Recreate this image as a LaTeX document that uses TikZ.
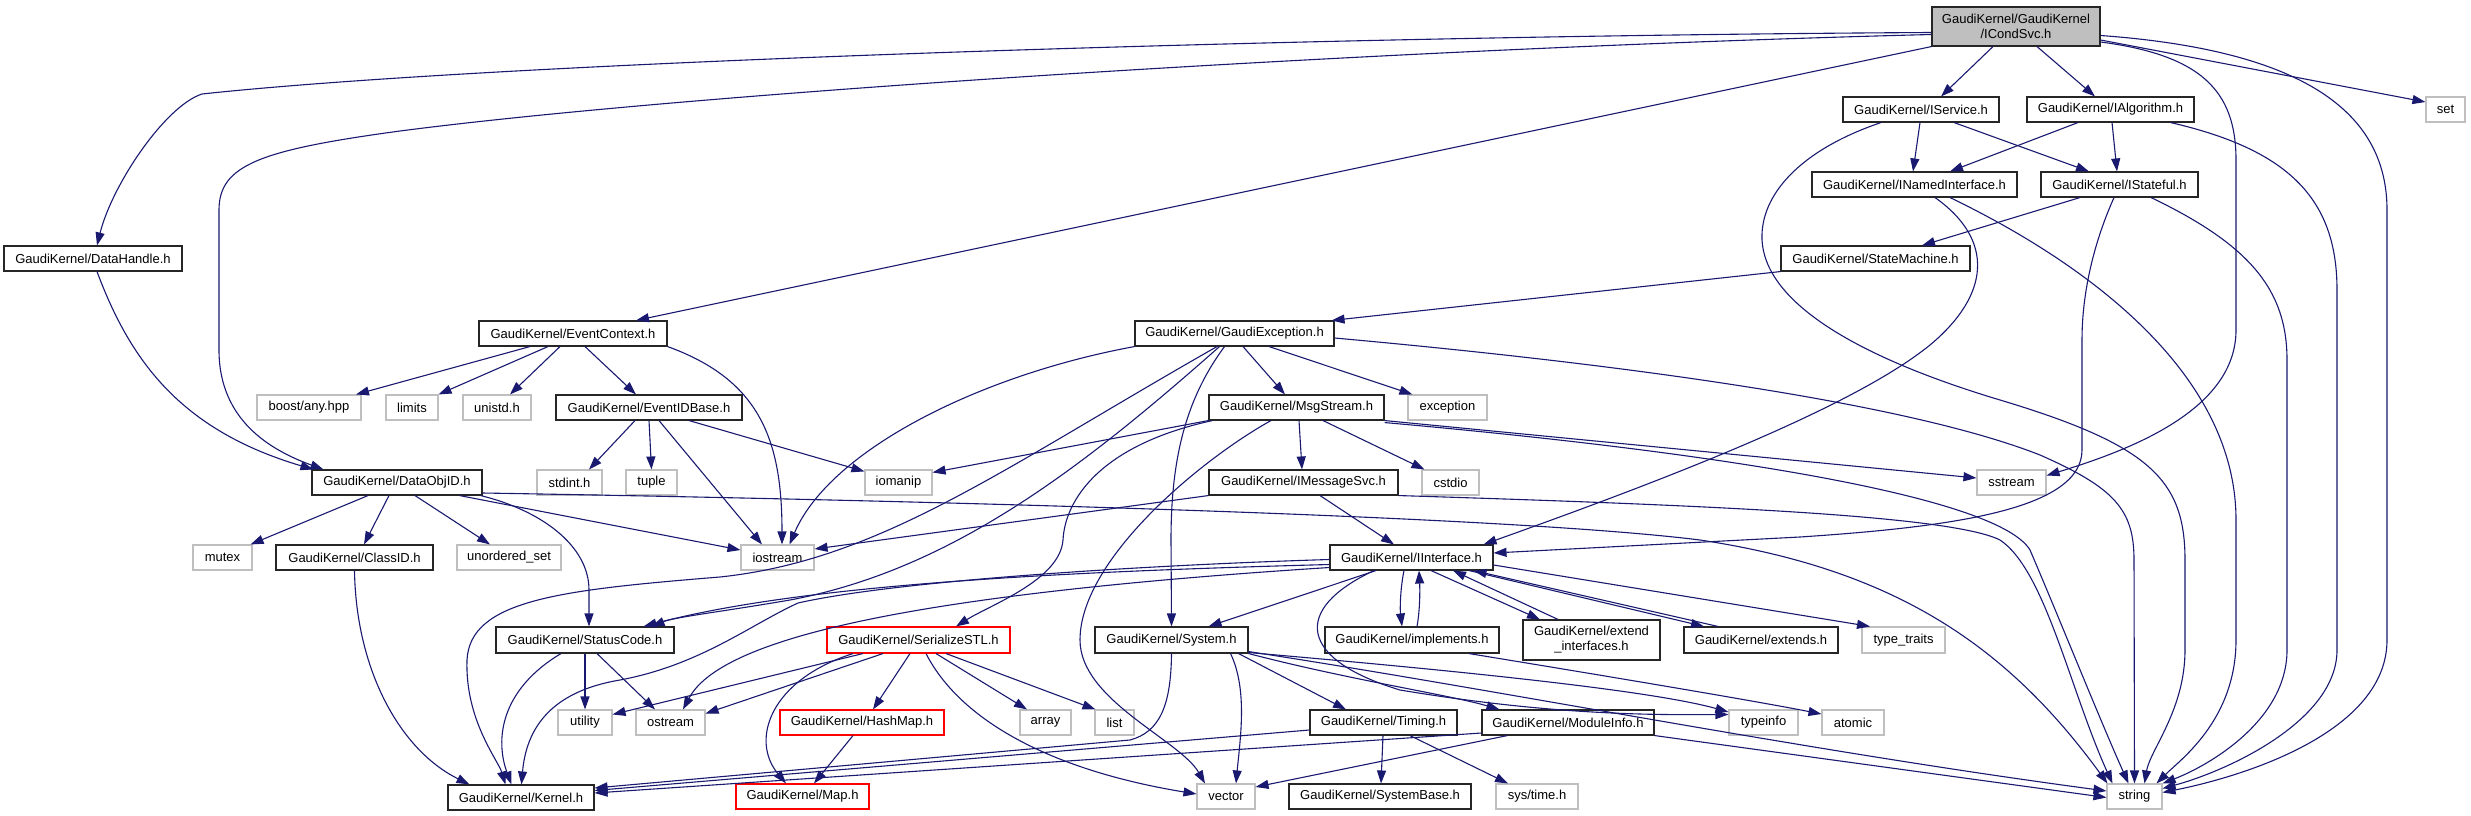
\documentclass[tikz,border=0pt]{standalone}
\usepackage{fontspec}
\setmainfont{Liberation Sans}
\usetikzlibrary{arrows.meta}
\definecolor{edgec}{HTML}{191970}
\definecolor{greyb}{HTML}{BFBFBF}
\newcommand\gnd[7][gbox]{\node[#1, minimum width={#5-#3}, minimum height={#6-#4}] (#2) at ({(#3+#5)/2},{(#4+#6)/2}) {#7};}
\begin{document}
\begin{tikzpicture}[x=1pt,y=-1pt,
  gbox/.style={draw=black!85, line width=1.1pt, inner sep=0pt, font=\fontsize{13}{15}\selectfont, align=center},
  gext/.style={gbox, draw=greyb},
  gred/.style={gbox, draw=red},
  gmain/.style={gbox, fill=greyb},
  lnk/.style={draw=edgec, line width=1.1pt, -{Triangle[length=13pt,width=9pt]}}]
\useasboundingbox (0,0) rectangle (2471,816);
% nodes
\gnd[gmain]{icond}{1932}{7}{2100}{46}{GaudiKernel/GaudiKernel\\/ICondSvc.h}
\gnd{isvc}{1843}{97}{1999}{122}{GaudiKernel/IService.h}
\gnd{ialg}{2027}{97}{2194}{122}{GaudiKernel/IAlgorithm.h}
\gnd[gext]{set}{2426}{97}{2465}{122}{set}
\gnd{inamed}{1812}{172}{2017}{197}{GaudiKernel/INamedInterface.h}
\gnd{istate}{2041}{172}{2198}{197}{GaudiKernel/IStateful.h}
\gnd{smach}{1781}{246}{1970}{271}{GaudiKernel/StateMachine.h}
\gnd{dhandle}{4}{246}{182}{271}{GaudiKernel/DataHandle.h}
\gnd{evctx}{479}{321}{667}{346}{GaudiKernel/EventContext.h}
\gnd{gexc}{1135}{321}{1334}{346}{GaudiKernel/GaudiException.h}
\gnd[gext]{boost}{257}{395}{361}{420}{boost/any.hpp}
\gnd[gext]{limits}{386}{395}{438}{420}{limits}
\gnd[gext]{unistd}{463}{395}{531}{420}{unistd.h}
\gnd{evid}{556}{395}{742}{420}{GaudiKernel/EventIDBase.h}
\gnd{msgs}{1209}{395}{1384}{420}{GaudiKernel/MsgStream.h}
\gnd[gext]{exc}{1408}{395}{1487}{420}{exception}
\gnd{dobj}{312}{470}{482}{495}{GaudiKernel/DataObjID.h}
\gnd[gext]{stdint}{537}{470}{602}{495}{stdint.h}
\gnd[gext]{tuple}{626}{470}{677}{495}{tuple}
\gnd[gext]{iomanip}{865}{470}{932}{495}{iomanip}
\gnd{imsg}{1209}{470}{1398}{495}{GaudiKernel/IMessageSvc.h}
\gnd[gext]{cstdio}{1422}{470}{1479}{495}{cstdio}
\gnd[gext]{sstream}{1977}{470}{2046}{495}{sstream}
\gnd[gext]{mutex}{193}{545}{252}{570}{mutex}
\gnd{classid}{276}{545}{433}{570}{GaudiKernel/ClassID.h}
\gnd[gext]{uset}{457}{545}{561}{570}{unordered\_set}
\gnd[gext]{iostream}{741}{545}{814}{570}{iostream}
\gnd{iintf}{1330}{545}{1493}{570}{GaudiKernel/IInterface.h}
\gnd{stcode}{496}{627}{674}{653}{GaudiKernel/StatusCode.h}
\gnd[gred]{sstl}{827}{627}{1010}{653}{GaudiKernel/SerializeSTL.h}
\gnd{system}{1095}{627}{1248}{653}{GaudiKernel/System.h}
\gnd{impl}{1325}{627}{1499}{653}{GaudiKernel/implements.h}
\gnd{extif}{1523}{620}{1660}{660}{GaudiKernel/extend\\\_interfaces.h}
\gnd{extends}{1684}{627}{1838}{653}{GaudiKernel/extends.h}
\gnd[gext]{ttraits}{1862}{627}{1945}{653}{type\_traits}
\gnd[gext]{utility}{558}{710}{612}{735}{utility}
\gnd[gext]{ostream}{636}{710}{705}{735}{ostream}
\gnd[gred]{hashmap}{780}{710}{944}{735}{GaudiKernel/HashMap.h}
\gnd[gext]{array}{1020}{710}{1071}{735}{array}
\gnd[gext]{list}{1095}{710}{1134}{735}{list}
\gnd{timing}{1310}{710}{1457}{735}{GaudiKernel/Timing.h}
\gnd{modinfo}{1482}{710}{1654}{735}{GaudiKernel/ModuleInfo.h}
\gnd[gext]{typeinfo}{1729}{710}{1798}{735}{typeinfo}
\gnd[gext]{atomic}{1822}{710}{1884}{735}{atomic}
\gnd{kernel}{448}{785}{594}{810}{GaudiKernel/Kernel.h}
\gnd[gred]{map}{736}{784}{869}{809}{GaudiKernel/Map.h}
\gnd[gext]{vector}{1197}{784}{1255}{809}{vector}
\gnd{sysbase}{1289}{784}{1471}{809}{GaudiKernel/SystemBase.h}
\gnd[gext]{systime}{1496}{784}{1578}{809}{sys/time.h}
\gnd[gext]{string}{2107}{784}{2162}{809}{string}
% edges from ICondSvc
\draw[lnk] ([yshift=-6]icond.west) .. controls (1300,36) and (500,62) .. (202,94) .. controls (165,106) and (112,185) .. ([xshift=4]dhandle.north);
\draw[lnk] ([yshift=-8]icond.west) .. controls (1400,48) and (700,92) .. (400,131) .. controls (260,150) and (219,165) .. (219,210) -- (219,350) .. controls (219,420) and (270,450) .. ([xshift=12]dobj.north west);
\draw[lnk] (icond.south west) -- ([xshift=63]evctx.north);
\draw[lnk] ([xshift=-23]icond.south) -- ([xshift=20]isvc.north);
\draw[lnk] ([xshift=21]icond.south) -- ([xshift=-15.5]ialg.north);
\draw[lnk] ([yshift=-13.5]icond.east) -- ([yshift=7.5]set.west);
\draw[lnk] ([yshift=-15.5]icond.east) .. controls (2200,55) and (2236,90) .. (2236,160) -- (2236,330) .. controls (2236,410) and (2130,450) .. ([yshift=7]sstream.east);
\draw[lnk] ([yshift=-9]icond.east) .. controls (2300,50) and (2387,110) .. (2387,210) -- (2387,640) .. controls (2387,730) and (2250,775) .. ([yshift=4]string.east);
% IService
\draw[lnk] ([xshift=-1]isvc.south) -- ([xshift=-1.5]inamed.north);
\draw[lnk] ([xshift=33]isvc.south) -- ([xshift=-30.5]istate.north);
\draw[lnk] ([xshift=-40]isvc.south) .. controls (1800,150) and (1760,195) .. (1762,240) .. controls (1765,300) and (1850,355) .. (2000,400) .. controls (2150,445) and (2185,480) .. (2185,560) -- (2185,650) .. controls (2185,710) and (2150,750) .. ([xshift=10]string.north);
% IAlgorithm
\draw[lnk] ([xshift=-32.5]ialg.south) -- ([xshift=35.5]inamed.north);
\draw[lnk] ([xshift=1.5]ialg.south) -- ([xshift=-2.5]istate.north);
\draw[lnk] ([xshift=-24]ialg.south east) .. controls (2290,150) and (2337,200) .. (2337,290) -- (2337,650) .. controls (2337,720) and (2230,770) .. ([yshift=8]string.east);
% INamedInterface
\draw[lnk] ([xshift=20.5]inamed.south) .. controls (1995,240) and (1990,295) .. (1930,345) .. controls (1850,410) and (1650,485) .. ([xshift=-10]iintf.north east);
\draw[lnk] ([xshift=35.5]inamed.south) .. controls (2100,270) and (2236,380) .. (2236,520) -- (2236,640) .. controls (2236,720) and (2180,760) .. ([xshift=22]string.north);
% IStateful
\draw[lnk] ([xshift=-39.5]istate.south) -- ([xshift=46.5]smach.north);
\draw[lnk] ([xshift=-5.5]istate.south) .. controls (2095,240) and (2082,290) .. (2082,340) -- (2082,450) .. controls (2082,510) and (1950,527) .. (1800,537) -- ([yshift=4.5]iintf.east);
\draw[lnk] ([xshift=31.5]istate.south) .. controls (2250,245) and (2287,290) .. (2287,360) -- (2287,650) .. controls (2287,720) and (2210,765) .. (string.north east);
% StateMachine
\draw[lnk] (smach.south west) -- ([xshift=-3]gexc.north east);
% DataHandle
\draw[lnk] ([xshift=4]dhandle.south) .. controls (130,360) and (180,430) .. ([xshift=2]dobj.north west);
% EventContext
\draw[lnk] ([xshift=-43]evctx.south) -- ([xshift=47]boost.north);
\draw[lnk] ([xshift=-25]evctx.south) -- (limits.north east);
\draw[lnk] ([xshift=-13]evctx.south) -- ([xshift=13]unistd.north);
\draw[lnk] ([xshift=12]evctx.south) -- ([xshift=-13]evid.north);
\draw[lnk] (evctx.south east) .. controls (760,380) and (782,440) .. ([xshift=4.5]iostream.north);
% EventIDBase
\draw[lnk] ([xshift=-14]evid.south) -- ([xshift=19.5]stdint.north);
\draw[lnk] (evid.south) -- (tuple.north);
\draw[lnk] ([xshift=10]evid.south) -- ([xshift=-15.5]iostream.north);
\draw[lnk] ([xshift=40]evid.south) -- ([yshift=-2]iomanip.north west);
% GaudiException
\draw[lnk] (gexc.south west) .. controls (980,375) and (830,450) .. ([xshift=12]iostream.north);
\draw[lnk] ([xshift=-10]gexc.south) .. controls (1185,400) and (1171,460) .. (1171,540) -- (system.north);
\draw[lnk] ([xshift=8.5]gexc.south) -- ([xshift=-11.5]msgs.north);
\draw[lnk] ([xshift=34.5]gexc.south) -- ([xshift=5]exc.north west);
\draw[lnk] ([yshift=-4.5]gexc.east) .. controls (1600,362) and (1900,400) .. (2040,455) .. controls (2115,488) and (2134,510) .. (2134,560) -- (string.north);
\draw[lnk] ([xshift=-17.5]gexc.south) .. controls (1000,470) and (880,560) .. (720,577) .. controls (560,590) and (470,600) .. (467,660) .. controls (465,720) and (498,760) .. ([xshift=58]kernel.north west);
\draw[lnk] ([xshift=-15]gexc.south) .. controls (1080,470) and (950,570) .. (790,600) .. controls (720,612) and (675,617) .. ([xshift=-23]stcode.north east);
% MsgStream
\draw[lnk] (msgs.south west) -- ([yshift=-3]iomanip.north east);
\draw[lnk] ([xshift=4]msgs.south west) .. controls (1100,445) and (1065,500) .. (1063,540) .. controls (1060,580) and (990,605) .. ([xshift=37.5]sstl.north);
\draw[lnk] ([xshift=-25.5]msgs.south) .. controls (1200,460) and (1080,560) .. (1080,640) .. controls (1080,700) and (1180,740) .. ([xshift=-21]vector.north);
\draw[lnk] ([xshift=2.5]msgs.south) -- ([xshift=-1.5]imsg.north);
\draw[lnk] ([xshift=26.5]msgs.south) -- ([xshift=3]cstdio.north west);
\draw[lnk] (msgs.south east) -- ([yshift=4.5]sstream.west);
\draw[lnk] ([yshift=-2]msgs.south east) .. controls (1750,455) and (2000,500) .. (2030,550) .. controls (2060,620) and (2100,720) .. ([xshift=-6]string.north);
% IMessageSvc
\draw[lnk] (imsg.south west) -- ([yshift=8.5]iostream.east);
\draw[lnk] ([xshift=16.5]imsg.south) -- ([xshift=-17.5]iintf.north);
\draw[lnk] (imsg.south east) .. controls (1700,505) and (1950,515) .. (2000,540) .. controls (2045,570) and (2070,690) .. ([xshift=6]string.north west);
% DataObjID
\draw[lnk] ([xshift=-29]dobj.south) -- ([xshift=-2]mutex.north east);
\draw[lnk] ([xshift=-8]dobj.south) -- ([xshift=9.5]classid.north);
\draw[lnk] ([xshift=18]dobj.south) -- ([xshift=-19]uset.north);
\draw[lnk] ([xshift=-2]dobj.south east) .. controls (540,510) and (589,545) .. (589,590) -- ([xshift=4]stcode.north);
\draw[lnk] ([xshift=-23]dobj.south east) -- ([yshift=7.5]iostream.west);
\draw[lnk] ([yshift=-10.5]dobj.east) .. controls (900,500) and (1500,515) .. (1700,540) .. controls (1900,570) and (2010,650) .. ([xshift=1]string.north west);
% ClassID, StatusCode
\draw[lnk] (classid.south) .. controls (356,670) and (400,750) .. ([xshift=22]kernel.north west);
\draw[lnk] ([xshift=-24]stcode.south) .. controls (500,690) and (495,740) .. ([xshift=64]kernel.north west);
\draw[lnk] (stcode.south) -- (utility.north);
\draw[lnk] ([xshift=12]stcode.south) -- ([xshift=-15.5]ostream.north);
% SerializeSTL
\draw[lnk] ([xshift=-55.5]sstl.south) -- ([yshift=8]utility.east);
\draw[lnk] ([xshift=-35.5]sstl.south) -- ([yshift=9]ostream.east);
\draw[lnk] ([xshift=-8.5]sstl.south) -- ([xshift=11]hashmap.north);
\draw[lnk] ([xshift=-65.5]sstl.south) .. controls (770,680) and (750,740) .. ([xshift=-16.5]map.north);
\draw[lnk] ([xshift=17.5]sstl.south) -- ([xshift=-18.5]array.north);
\draw[lnk] ([xshift=27.5]sstl.south) -- ([xshift=1]list.north west);
\draw[lnk] ([xshift=7.5]sstl.south) .. controls (960,720) and (1050,770) .. ([yshift=2.5]vector.west);
\draw[lnk] ([xshift=-9]hashmap.south) -- ([xshift=11.5]map.north);
% IInterface
\draw[lnk] ([yshift=-2]iintf.west) .. controls (1150,565) and (900,580) .. (798,603) .. controls (750,625) and (700,665) .. (620,680) .. controls (560,690) and (527,720) .. ([xshift=74]kernel.north west);
\draw[lnk] ([yshift=-7]iintf.west) .. controls (1050,572) and (800,585) .. ([xshift=-31]stcode.north east);
\draw[lnk] ([yshift=-10]iintf.west) .. controls (900,595) and (720,640) .. ([xshift=12.5]ostream.north);
\draw[lnk] ([xshift=-7.5]iintf.south) .. controls (1400,590) and (1400,610) .. ([xshift=-10]impl.north);
\draw[lnk] ([xshift=5]impl.north) .. controls (1420,610) and (1420,590) .. ([xshift=7.5]iintf.south);
\draw[lnk] ([xshift=19.5]iintf.south) -- ([xshift=-51.5]extif.north);
\draw[lnk] ([xshift=-33.5]extif.north) -- ([xshift=41.5]iintf.south);
\draw[lnk] ([xshift=57.5]iintf.south) -- ([xshift=-57]extends.north);
\draw[lnk] ([xshift=-43]extends.north) -- ([xshift=-20]iintf.south east);
\draw[lnk] ([yshift=-7.5]iintf.east) -- ([xshift=-33.5]ttraits.north);
\draw[lnk] ([xshift=-35.5]iintf.south) -- ([xshift=-40]system.north east);
\draw[lnk] ([xshift=-37.5]iintf.south) .. controls (1290,610) and (1300,660) .. (1400,690) .. controls (1550,715) and (1650,715) .. ([yshift=8]typeinfo.west);
\draw[lnk] ([xshift=57]impl.south) .. controls (1600,675) and (1750,700) .. ([yshift=8.5]atomic.west);
% System
\draw[lnk] (system.south) .. controls (1171,705) and (1160,732) .. (1130,740) -- ([yshift=9.5]kernel.east);
\draw[lnk] ([xshift=-18]system.south east) .. controls (1248,690) and (1240,740) .. ([xshift=10]vector.north);
\draw[lnk] ([xshift=-10]system.south east) -- ([xshift=-37.5]timing.north);
\draw[lnk] (system.south east) .. controls (1350,680) and (1450,695) .. ([xshift=18]modinfo.north west);
\draw[lnk] ([yshift=1]system.south east) .. controls (1450,670) and (1650,690) .. ([yshift=10.5]typeinfo.west);
\draw[lnk] ([yshift=2]system.south east) .. controls (1500,690) and (1800,750) .. ([yshift=5.5]string.west);
% Timing, ModuleInfo
\draw[lnk] ([yshift=-7.5]timing.west) -- ([yshift=7]kernel.east);
\draw[lnk] ([xshift=-0.5]timing.south) -- ([xshift=1]sysbase.north);
\draw[lnk] ([xshift=26.5]timing.south) -- ([xshift=-29]systime.north);
\draw[lnk] ([yshift=-10.5]modinfo.west) -- ([yshift=4.5]kernel.east);
\draw[lnk] ([xshift=26]modinfo.south west) -- ([yshift=9.5]vector.east);
\draw[lnk] (modinfo.south east) -- ([yshift=-1]string.west);
\end{tikzpicture}
\end{document}
